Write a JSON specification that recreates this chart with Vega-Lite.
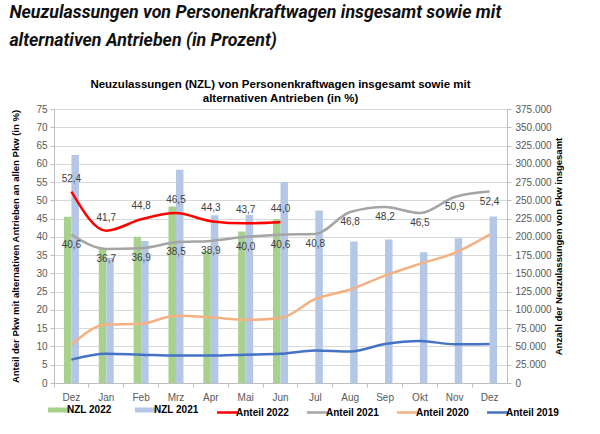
{
  "$schema": "https://vega.github.io/schema/vega-lite/v6.json",
  "background": "white",
  "padding": {"left": 9, "top": 4, "right": 5, "bottom": 5},
  "config": {
    "locale": {"number": {"decimal": ",", "thousands": ".", "grouping": [3], "currency": ["", " €"]}},
    "font": "Liberation Sans",
    "view": {"stroke": "#D9D9D9"},
    "axis": {"labelFont": "Liberation Sans", "labelFontSize": 10, "labelColor": "#595959", "titleFont": "Liberation Sans", "titleFontSize": 9.5, "titleFontWeight": "bold", "titleColor": "#000000", "domainColor": "#BFBFBF", "tickColor": "#BFBFBF", "gridColor": "#D9D9D9", "tickSize": 4}
  },
  "title": {
    "text": ["Neuzulassungen von Personenkraftwagen insgesamt sowie mit", "alternativen Antrieben (in Prozent)"],
    "anchor": "start",
    "font": "Roboto",
    "fontSize": 17.8,
    "fontWeight": "bold",
    "fontStyle": "italic",
    "lineHeight": 28,
    "color": "#111111",
    "dx": -1,
    "offset": 28
  },
  "datasets": {
    "bars": [
      {"m": "Dez 21", "s": "NZL 2022", "v": 227500},
      {"m": "Jan", "s": "NZL 2022", "v": 184500},
      {"m": "Feb", "s": "NZL 2022", "v": 200000},
      {"m": "Mrz", "s": "NZL 2022", "v": 241500},
      {"m": "Apr", "s": "NZL 2022", "v": 180500},
      {"m": "Mai", "s": "NZL 2022", "v": 207500},
      {"m": "Jun", "s": "NZL 2022", "v": 224500},
      {"m": "Dez 21", "s": "NZL 2021", "v": 312000},
      {"m": "Jan", "s": "NZL 2021", "v": 171500},
      {"m": "Feb", "s": "NZL 2021", "v": 194500},
      {"m": "Mrz", "s": "NZL 2021", "v": 292000},
      {"m": "Apr", "s": "NZL 2021", "v": 229500},
      {"m": "Mai", "s": "NZL 2021", "v": 230000},
      {"m": "Jun", "s": "NZL 2021", "v": 275000},
      {"m": "Jul", "s": "NZL 2021", "v": 236000},
      {"m": "Aug", "s": "NZL 2021", "v": 193500},
      {"m": "Sep", "s": "NZL 2021", "v": 196500},
      {"m": "Okt", "s": "NZL 2021", "v": 179000},
      {"m": "Nov", "s": "NZL 2021", "v": 198000},
      {"m": "Dez", "s": "NZL 2021", "v": 228000}
    ],
    "lines": [
      {"m": "Dez 21", "s": "Anteil 2022", "v": 52.4},
      {"m": "Jan", "s": "Anteil 2022", "v": 41.7},
      {"m": "Feb", "s": "Anteil 2022", "v": 44.8},
      {"m": "Mrz", "s": "Anteil 2022", "v": 46.5},
      {"m": "Apr", "s": "Anteil 2022", "v": 44.3},
      {"m": "Mai", "s": "Anteil 2022", "v": 43.7},
      {"m": "Jun", "s": "Anteil 2022", "v": 44.0},
      {"m": "Dez 21", "s": "Anteil 2021", "v": 40.6},
      {"m": "Jan", "s": "Anteil 2021", "v": 36.7},
      {"m": "Feb", "s": "Anteil 2021", "v": 36.9},
      {"m": "Mrz", "s": "Anteil 2021", "v": 38.5},
      {"m": "Apr", "s": "Anteil 2021", "v": 38.9},
      {"m": "Mai", "s": "Anteil 2021", "v": 40.0},
      {"m": "Jun", "s": "Anteil 2021", "v": 40.6},
      {"m": "Jul", "s": "Anteil 2021", "v": 40.8},
      {"m": "Aug", "s": "Anteil 2021", "v": 46.8},
      {"m": "Sep", "s": "Anteil 2021", "v": 48.2},
      {"m": "Okt", "s": "Anteil 2021", "v": 46.5},
      {"m": "Nov", "s": "Anteil 2021", "v": 50.9},
      {"m": "Dez", "s": "Anteil 2021", "v": 52.4},
      {"m": "Dez 21", "s": "Anteil 2020", "v": 10.5},
      {"m": "Jan", "s": "Anteil 2020", "v": 16.0},
      {"m": "Feb", "s": "Anteil 2020", "v": 16.2},
      {"m": "Mrz", "s": "Anteil 2020", "v": 18.4},
      {"m": "Apr", "s": "Anteil 2020", "v": 18.0},
      {"m": "Mai", "s": "Anteil 2020", "v": 17.3},
      {"m": "Jun", "s": "Anteil 2020", "v": 17.8},
      {"m": "Jul", "s": "Anteil 2020", "v": 23.0},
      {"m": "Aug", "s": "Anteil 2020", "v": 25.6},
      {"m": "Sep", "s": "Anteil 2020", "v": 29.4},
      {"m": "Okt", "s": "Anteil 2020", "v": 32.6},
      {"m": "Nov", "s": "Anteil 2020", "v": 35.6},
      {"m": "Dez", "s": "Anteil 2020", "v": 40.6},
      {"m": "Dez 21", "s": "Anteil 2019", "v": 6.4},
      {"m": "Jan", "s": "Anteil 2019", "v": 8.0},
      {"m": "Feb", "s": "Anteil 2019", "v": 7.75},
      {"m": "Mrz", "s": "Anteil 2019", "v": 7.5},
      {"m": "Apr", "s": "Anteil 2019", "v": 7.5},
      {"m": "Mai", "s": "Anteil 2019", "v": 7.75},
      {"m": "Jun", "s": "Anteil 2019", "v": 8.0},
      {"m": "Jul", "s": "Anteil 2019", "v": 8.9},
      {"m": "Aug", "s": "Anteil 2019", "v": 8.6},
      {"m": "Sep", "s": "Anteil 2019", "v": 10.7},
      {"m": "Okt", "s": "Anteil 2019", "v": 11.5},
      {"m": "Nov", "s": "Anteil 2019", "v": 10.6},
      {"m": "Dez", "s": "Anteil 2019", "v": 10.7}
    ]
  },
  "vconcat": [
    {
      "width": 453,
      "height": 274,
      "title": {
        "text": ["Neuzulassungen (NZL) von Personenkraftwagen insgesamt sowie mit", "alternativen Antrieben (in %)"],
        "anchor": "middle",
        "font": "Liberation Sans",
        "fontSize": 11.5,
        "fontWeight": "bold",
        "lineHeight": 14,
        "color": "#000000",
        "offset": 0
      },
      "layer": [
        {
          "data": {"name": "bars"},
          "mark": {"type": "bar"},
          "encoding": {
            "x": {
              "field": "m", "type": "ordinal",
              "sort": ["Dez 21", "Jan", "Feb", "Mrz", "Apr", "Mai", "Jun", "Jul", "Aug", "Sep", "Okt", "Nov", "Dez"],
              "scale": {"paddingInner": 0.57, "paddingOuter": 0.285},
              "axis": {"title": null, "labelAngle": 0, "labelExpr": "datum.label == 'Dez 21' ? 'Dez' : datum.label", "labelPadding": 5, "bandPosition": -0.662}
            },
            "xOffset": {"field": "s", "type": "nominal", "sort": ["NZL 2022", "NZL 2021"]},
            "y": {
              "field": "v", "type": "quantitative",
              "scale": {"domain": [0, 375000], "nice": false},
              "axis": {
                "orient": "right",
                "title": "Anzahl der Neuzulassungen von Pkw insgesamt",
                "titleAngle": 270,
                "titleBaseline": "bottom",
                "values": [0, 25000, 50000, 75000, 100000, 125000, 150000, 175000, 200000, 225000, 250000, 275000, 300000, 325000, 350000, 375000],
                "format": ",d",
                "grid": false,
                "labelPadding": 4,
                "titlePadding": 12
              }
            },
            "color": {
              "field": "s", "type": "nominal",
              "scale": {
                "domain": ["NZL 2022", "NZL 2021", "Anteil 2022", "Anteil 2021", "Anteil 2020", "Anteil 2019"],
                "range": ["#A9D18E", "#B4C7E7", "#FF0000", "#A5A5A5", "#F4B183", "#4472C4"]
              },
              "legend": {
                "title": null,
                "orient": "bottom",
                "direction": "horizontal",
                "symbolType": "stroke",
                "symbolSize": 484,
                "labelFont": "Liberation Sans",
                "labelFontSize": 10,
                "labelFontWeight": "bold",
                "labelColor": "#000000",
                "labelOffset": 3,
                "columnPadding": 13,
                "offset": 2,
                "encode": {
                  "symbols": {
                    "update": {
                      "stroke": {"scale": "color", "field": "value"},
                      "fill": {"value": "transparent"},
                      "strokeWidth": {"signal": "datum.value == 'NZL 2022' || datum.value == 'NZL 2021' ? 5 : 2.5"}
                    }
                  }
                }
              }
            }
          }
        },
        {
          "data": {"name": "lines"},
          "mark": {"type": "line", "interpolate": "monotone", "strokeWidth": 2.5},
          "encoding": {
            "x": {"field": "m", "type": "ordinal", "sort": ["Dez 21", "Jan", "Feb", "Mrz", "Apr", "Mai", "Jun", "Jul", "Aug", "Sep", "Okt", "Nov", "Dez"]},
            "y": {
              "field": "v", "type": "quantitative",
              "scale": {"domain": [0, 75], "nice": false},
              "axis": {
                "orient": "left",
                "title": "Anteil der Pkw mit alternativen Antrieben an allen Pkw (in %)",
                "values": [0, 5, 10, 15, 20, 25, 30, 35, 40, 45, 50, 55, 60, 65, 70, 75],
                "grid": true,
                "labelPadding": 3,
                "titlePadding": 15
              }
            },
            "color": {"field": "s", "type": "nominal"},
            "detail": {"field": "s"}
          }
        },
        {
          "data": {"name": "lines"},
          "transform": [{"filter": "datum.s == 'Anteil 2022'"}],
          "mark": {"type": "text", "dy": -13, "fontSize": 10, "color": "#404040", "font": "Liberation Sans"},
          "encoding": {
            "x": {"field": "m", "type": "ordinal", "sort": ["Dez 21", "Jan", "Feb", "Mrz", "Apr", "Mai", "Jun", "Jul", "Aug", "Sep", "Okt", "Nov", "Dez"]},
            "y": {"field": "v", "type": "quantitative", "scale": {"domain": [0, 75], "nice": false}, "axis": null},
            "text": {"field": "v", "type": "quantitative", "format": ".1f"}
          }
        },
        {
          "data": {"name": "lines"},
          "transform": [{"filter": "datum.s == 'Anteil 2021'"}],
          "mark": {"type": "text", "dy": 10, "fontSize": 10, "color": "#404040", "font": "Liberation Sans"},
          "encoding": {
            "x": {"field": "m", "type": "ordinal", "sort": ["Dez 21", "Jan", "Feb", "Mrz", "Apr", "Mai", "Jun", "Jul", "Aug", "Sep", "Okt", "Nov", "Dez"]},
            "y": {"field": "v", "type": "quantitative", "scale": {"domain": [0, 75], "nice": false}, "axis": null},
            "text": {"field": "v", "type": "quantitative", "format": ".1f"}
          }
        }
      ],
      "resolve": {"scale": {"y": "independent"}}
    }
  ]
}
